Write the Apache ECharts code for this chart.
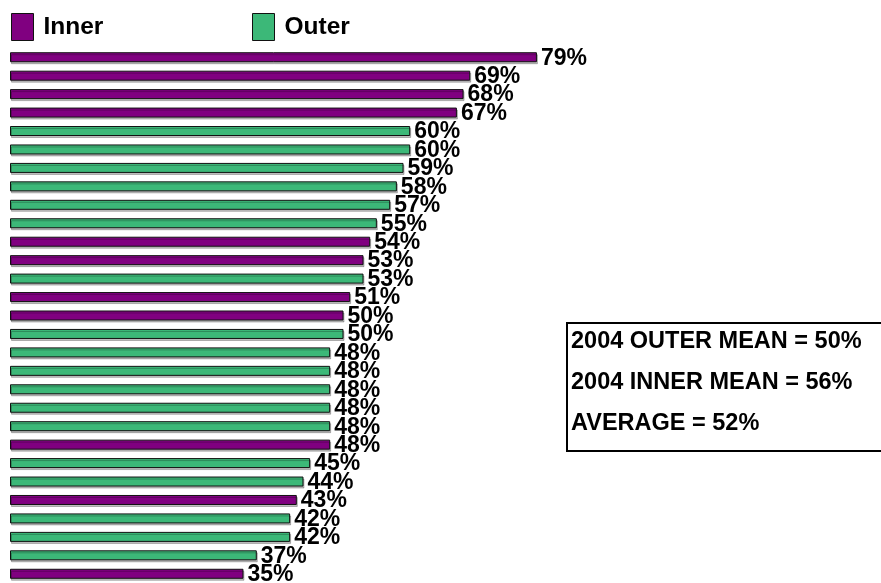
<!DOCTYPE html>
<html>
<head>
<meta charset="utf-8">
<script src="https://cdn.jsdelivr.net/npm/echarts@6/dist/echarts.min.js"></script>
<style>
  html, body { margin: 0; padding: 0; background: #ffffff; }
  #chart { width: 881px; height: 583px; }
</style>
</head>
<body>
<div id="chart"></div>
<script>
// Percentages per row, top to bottom, and which group each row belongs to
const values = [79, 69, 68, 67, 60, 60, 59, 58, 57, 55, 54, 53, 53, 51, 50, 50, 48, 48, 48, 48, 48, 48, 45, 44, 43, 42, 42, 37, 35];
const groups = ['Inner', 'Inner', 'Inner', 'Inner', 'Outer', 'Outer', 'Outer', 'Outer', 'Outer', 'Outer',
                'Inner', 'Inner', 'Outer', 'Inner', 'Inner', 'Outer', 'Outer', 'Outer', 'Outer', 'Outer',
                'Outer', 'Inner', 'Outer', 'Outer', 'Inner', 'Outer', 'Outer', 'Outer', 'Inner'];
const seriesNames = ['Inner', 'Outer'];
const summaryLines = ['2004 OUTER MEAN = 50%', '2004 INNER MEAN = 56%', 'AVERAGE = 52%'];

const colors = { Inner: '#800080', Outer: '#3cb878' };
const FONT = '"Liberation Sans", Arial, sans-serif';
const categories = values.map((v, i) => 'r' + i);

const chart = echarts.init(document.getElementById('chart'), null, { renderer: 'canvas' });

// One stacked series per group; rows of the other group get '-' so each row shows one bar
const barSeries = seriesNames.map(name => ({
  name: name,
  type: 'bar',
  stack: 'all',
  barWidth: 10,
  data: values.map((v, i) => groups[i] === name ? v : '-'),
  itemStyle: {
    color: colors[name],
    borderColor: '#111111',
    borderWidth: 1,
    shadowColor: 'rgba(0,0,0,0.25)',
    shadowOffsetX: 1,
    shadowOffsetY: 2
  },
  label: {
    show: true,
    position: 'right',
    distance: 4,
    formatter: '{c}%',
    color: '#000000',
    fontFamily: FONT,
    fontWeight: 'bold',
    fontSize: 23,
    offset: [0, 1]
  },
  emphasis: { disabled: true },
  animation: false
}));

// Legend entries placed individually
const legendLefts = [11, 252];
const legends = seriesNames.map((name, i) => ({
  data: [name],
  left: legendLefts[i],
  top: 13,
  padding: 0,
  itemWidth: 22,
  itemHeight: 27,
  itemGap: 0,
  icon: 'rect',
  selectedMode: false,
  itemStyle: { borderColor: '#111111', borderWidth: 1 },
  formatter: '{t|{name}}',
  textStyle: {
    rich: {
      t: { fontFamily: FONT, fontWeight: 'bold', fontSize: 24.5, color: '#000000', padding: [0, 0, 0, 5] }
    }
  }
}));

chart.setOption({
  animation: false,
  legend: legends,
  grid: { left: 10, top: 48, width: 667, height: 535 },
  xAxis: {
    type: 'value', min: 0, max: 100,
    show: false
  },
  yAxis: {
    type: 'category',
    data: categories,
    inverse: true,
    show: false
  },
  series: barSeries,
  graphic: [
    {
      type: 'rect',
      shape: { x: 567, y: 323, width: 330, height: 128 },
      style: { fill: '#ffffff', stroke: '#000000', lineWidth: 2 }
    },
    ...summaryLines.map((t, i) => ({
      type: 'text',
      x: 571,
      y: 342 + i * 41,
      style: {
        text: t,
        fontFamily: FONT,
        fontWeight: 'bold',
        fontSize: 23.5,
        fill: '#000000',
        verticalAlign: 'middle'
      }
    }))
  ]
});
</script>
</body>
</html>
